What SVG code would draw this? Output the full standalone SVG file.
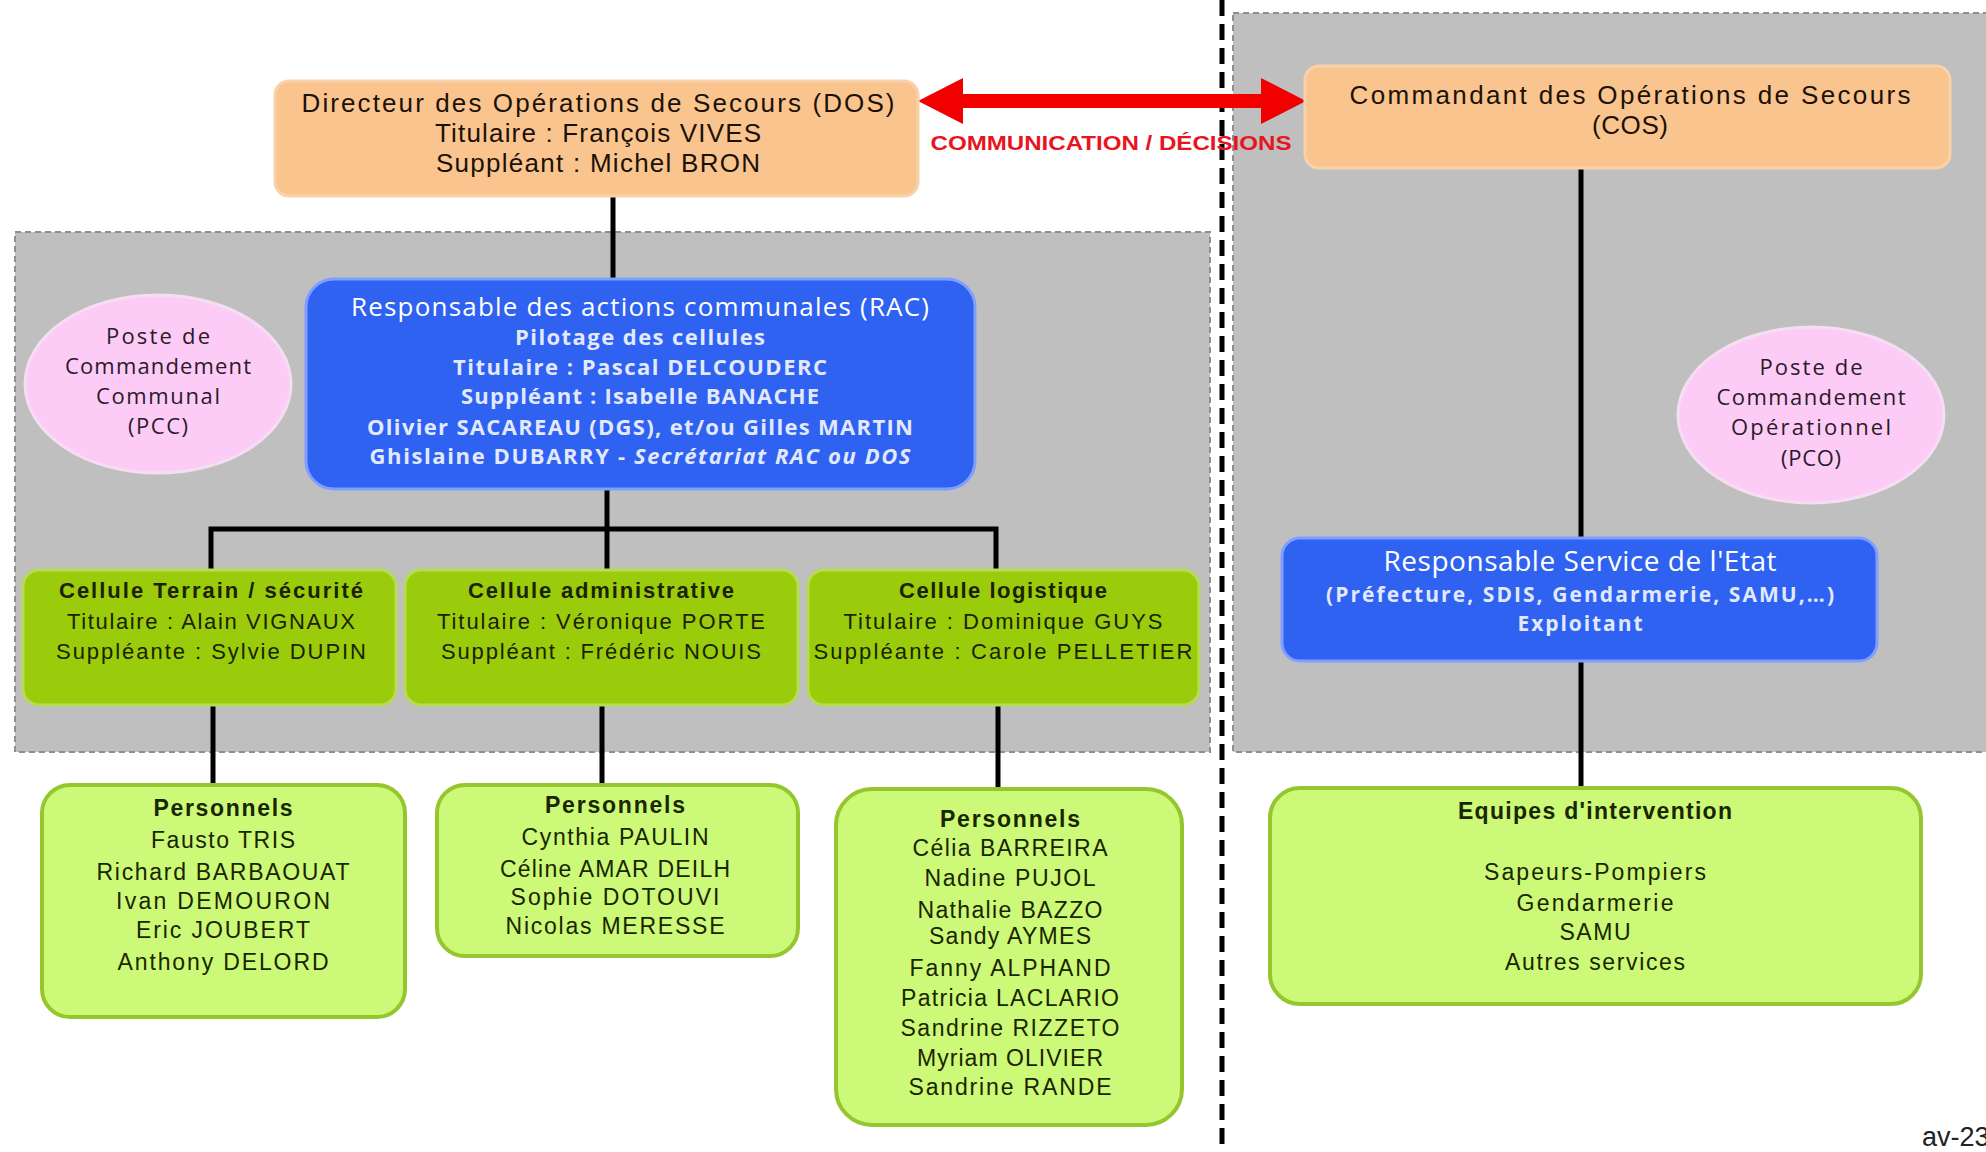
<svg xmlns="http://www.w3.org/2000/svg" width="1986" height="1152" viewBox="0 0 1986 1152">
<defs>
<style>
.t{font-family:"Liberation Sans",Arial,sans-serif;text-anchor:middle}
.c{font-family:"Open Sans","DejaVu Sans",sans-serif;text-anchor:middle}
.dos{fill:#FAC48F;stroke:#F7D2AA;stroke-width:3}
.blue{fill:#2F62F0;stroke:#7F9FFF;stroke-width:3}
.pink{fill:#FCCCF6;stroke:#F5DDF2;stroke-width:3}
.cell{fill:#9ACC0C;stroke:#B7DB55;stroke-width:3}
.pers{fill:#CCF977;stroke:#95C62E;stroke-width:4}
.ln{stroke:#000;stroke-width:5;fill:none}
</style>
</defs>
<rect width="1986" height="1152" fill="#fff"/>
<rect x="15" y="232" width="1195" height="520" fill="#BFBFBF" stroke="#8f8f8f" stroke-width="2" stroke-dasharray="6,4"/>
<rect x="1233" y="13" width="760" height="739" fill="#BFBFBF" stroke="#8f8f8f" stroke-width="2" stroke-dasharray="6,4"/>
<line x1="1222" y1="0" x2="1222" y2="1152" stroke="#000" stroke-width="5" stroke-dasharray="16,8"/>
<g id="connectors">
<line class="ln" x1="613" y1="196" x2="613" y2="279"/>
<line class="ln" x1="607" y1="489" x2="607" y2="529"/>
<polyline class="ln" points="211,570 211,529 996,529 996,570"/>
<line class="ln" x1="607" y1="529" x2="607" y2="570"/>
<line class="ln" x1="213" y1="705" x2="213" y2="785"/>
<line class="ln" x1="602" y1="705" x2="602" y2="785"/>
<line class="ln" x1="998" y1="705" x2="998" y2="789"/>
<line class="ln" x1="1581" y1="168" x2="1581" y2="538"/>
<line class="ln" x1="1581" y1="661" x2="1581" y2="788"/>
<polygon fill="#F20000" points="918,101 963,78 963,94 1261,94 1261,78 1306,101 1261,124 1261,108 963,108 963,124"/>
<text class="t" x="1111" y="150" font-size="20" font-weight="bold" fill="#E8141E" textLength="361" lengthAdjust="spacingAndGlyphs">COMMUNICATION / DÉCISIONS</text>
</g>
<g id="dos">
<rect class="dos" x="275" y="81" width="643" height="115" rx="14"/>
<text class="t" font-size="26" fill="#1a1208" lengthAdjust="spacingAndGlyphs"><tspan x="598" y="112" textLength="593">Directeur des Opérations de Secours (DOS)</tspan><tspan x="598" y="142" textLength="326">Titulaire : François VIVES</tspan><tspan x="598" y="172" textLength="324">Suppléant : Michel BRON</tspan></text>
</g>
<g id="cos">
<rect class="dos" x="1305" y="66" width="645" height="102" rx="14"/>
<text class="t" font-size="26" fill="#1a1208"><tspan x="1630" y="104" textLength="561">Commandant des Opérations de Secours</tspan><tspan x="1630" y="134" textLength="76">(COS)</tspan></text>
</g>
<g id="pcc">
<ellipse class="pink" cx="158" cy="384" rx="133" ry="89"/>
<text class="c" font-size="22" fill="#2a1a2a" lengthAdjust="spacingAndGlyphs"><tspan x="158" y="344" textLength="104">Poste de</tspan><tspan x="158" y="374" textLength="186">Commandement</tspan><tspan x="158" y="404" textLength="124">Communal</tspan><tspan x="158" y="434" textLength="60">(PCC)</tspan></text>
</g>
<g id="rac">
<rect class="blue" x="306" y="279" width="669" height="210" rx="28"/>
<text class="c" fill="#fff" lengthAdjust="spacingAndGlyphs"><tspan x="640" y="316" font-size="26" textLength="578">Responsable des actions communales  (RAC)</tspan><tspan x="640" y="345" font-size="22" font-weight="bold" fill="#E2E9FF" textLength="250">Pilotage des cellules</tspan><tspan x="640" y="375" font-size="22" font-weight="bold" fill="#E2E9FF" textLength="374">Titulaire : Pascal DELCOUDERC</tspan><tspan x="640" y="404" font-size="22" font-weight="bold" fill="#E2E9FF" textLength="358">Suppléant : Isabelle BANACHE</tspan><tspan x="640" y="435" font-size="22" font-weight="bold" fill="#E2E9FF" textLength="546">Olivier SACAREAU (DGS), et/ou Gilles MARTIN</tspan><tspan x="640" y="464" font-size="22" font-weight="bold" fill="#E2E9FF" textLength="541">Ghislaine DUBARRY - <tspan font-style="italic">Secrétariat RAC ou DOS</tspan></tspan></text>
</g>
<g id="cellule-terrain">
<rect class="cell" x="23" y="570" width="373" height="135" rx="16"/>
<text class="t" font-size="22" fill="#1a2200" lengthAdjust="spacingAndGlyphs"><tspan x="211" y="598" font-weight="bold" textLength="304">Cellule Terrain / sécurité</tspan><tspan x="211" y="629" textLength="288">Titulaire : Alain VIGNAUX</tspan><tspan x="211" y="659" textLength="310">Suppléante : Sylvie DUPIN</tspan></text>
</g>
<g id="cellule-admin">
<rect class="cell" x="405" y="570" width="393" height="135" rx="16"/>
<text class="t" font-size="22" fill="#1a2200" lengthAdjust="spacingAndGlyphs"><tspan x="601" y="598" font-weight="bold" textLength="266">Cellule administrative</tspan><tspan x="601" y="629" textLength="328">Titulaire : Véronique PORTE</tspan><tspan x="601" y="659" textLength="320">Suppléant : Frédéric NOUIS</tspan></text>
</g>
<g id="cellule-logistique">
<rect class="cell" x="808" y="570" width="391" height="135" rx="16"/>
<text class="t" font-size="22" fill="#1a2200" lengthAdjust="spacingAndGlyphs"><tspan x="1003" y="598" font-weight="bold" textLength="208">Cellule logistique</tspan><tspan x="1003" y="629" textLength="319">Titulaire : Dominique GUYS</tspan><tspan x="1003" y="659" textLength="379">Suppléante : Carole PELLETIER</tspan></text>
</g>
<g id="personnels-terrain">
<rect class="pers" x="42" y="785" width="363" height="232" rx="28"/>
<text class="t" font-size="23" fill="#1a2600" lengthAdjust="spacingAndGlyphs"><tspan x="223" y="816" font-weight="bold" textLength="139">Personnels</tspan><tspan x="223" y="848" textLength="144">Fausto TRIS</tspan><tspan x="223" y="880" textLength="253">Richard BARBAOUAT</tspan><tspan x="223" y="909" textLength="214">Ivan DEMOURON</tspan><tspan x="223" y="938" textLength="174">Eric JOUBERT</tspan><tspan x="223" y="970" textLength="211">Anthony DELORD</tspan></text>
</g>
<g id="personnels-admin">
<rect class="pers" x="437" y="785" width="361" height="171" rx="28"/>
<text class="t" font-size="23" fill="#1a2600" lengthAdjust="spacingAndGlyphs"><tspan x="615" y="813" font-weight="bold" textLength="140">Personnels</tspan><tspan x="615" y="845" textLength="187">Cynthia PAULIN</tspan><tspan x="615" y="877" textLength="230">Céline AMAR DEILH</tspan><tspan x="615" y="905" textLength="209">Sophie DOTOUVI</tspan><tspan x="615" y="934" textLength="219">Nicolas MERESSE</tspan></text>
</g>
<g id="personnels-logistique">
<rect class="pers" x="836" y="789" width="346" height="336" rx="36"/>
<text class="t" font-size="23" fill="#1a2600" lengthAdjust="spacingAndGlyphs"><tspan x="1010" y="827" font-weight="bold" textLength="140">Personnels</tspan><tspan x="1010" y="856" textLength="195">Célia BARREIRA</tspan><tspan x="1010" y="886" textLength="171">Nadine PUJOL</tspan><tspan x="1010" y="918" textLength="185">Nathalie BAZZO</tspan><tspan x="1010" y="944" textLength="162">Sandy AYMES</tspan><tspan x="1010" y="976" textLength="201">Fanny ALPHAND</tspan><tspan x="1010" y="1006" textLength="218">Patricia LACLARIO</tspan><tspan x="1010" y="1036" textLength="219">Sandrine RIZZETO</tspan><tspan x="1010" y="1066" textLength="186">Myriam OLIVIER</tspan><tspan x="1010" y="1095" textLength="203">Sandrine RANDE</tspan></text>
</g>
<g id="pco">
<ellipse class="pink" cx="1811" cy="415" rx="133" ry="88"/>
<text class="c" font-size="22" fill="#2a1a2a" lengthAdjust="spacingAndGlyphs"><tspan x="1811" y="375" textLength="103">Poste de</tspan><tspan x="1811" y="405" textLength="189">Commandement</tspan><tspan x="1811" y="435" textLength="160">Opérationnel</tspan><tspan x="1811" y="466" textLength="60">(PCO)</tspan></text>
</g>
<g id="service-etat">
<rect class="blue" x="1282" y="538" width="595" height="123" rx="18"/>
<text class="c" fill="#fff" lengthAdjust="spacingAndGlyphs"><tspan x="1580" y="571" font-size="28" textLength="393">Responsable Service de l'Etat</tspan><tspan x="1580" y="602" font-size="21" font-weight="bold" fill="#E2E9FF" textLength="508">(Préfecture, SDIS, Gendarmerie, SAMU,…)</tspan><tspan x="1580" y="631" font-size="21" font-weight="bold" fill="#E2E9FF" textLength="125">Exploitant</tspan></text>
</g>
<g id="equipes">
<rect class="pers" x="1270" y="788" width="651" height="216" rx="30"/>
<text class="t" font-size="23" fill="#1a2600" lengthAdjust="spacingAndGlyphs"><tspan x="1595" y="819" font-weight="bold" textLength="274">Equipes d'intervention</tspan><tspan x="1595" y="880" textLength="222">Sapeurs-Pompiers</tspan><tspan x="1595" y="911" textLength="157">Gendarmerie</tspan><tspan x="1595" y="940" textLength="71">SAMU</tspan><tspan x="1595" y="970" textLength="180">Autres services</tspan></text>
</g>
<text x="1922" y="1146" font-family="Liberation Sans,Arial,sans-serif" font-size="27" fill="#222">av-23</text>
</svg>
